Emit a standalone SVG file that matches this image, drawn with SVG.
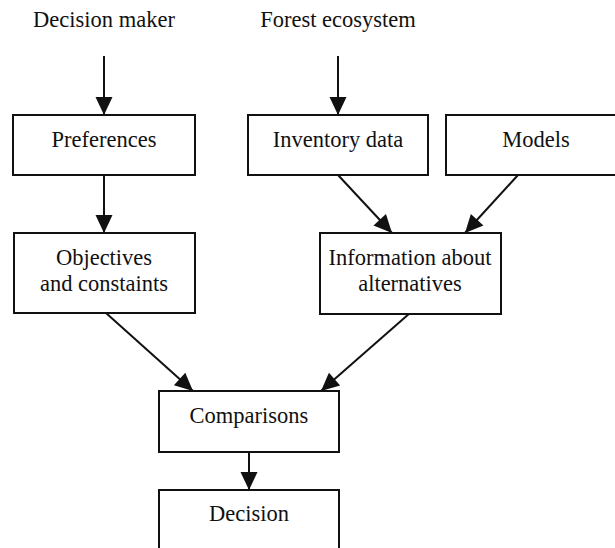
<svg xmlns="http://www.w3.org/2000/svg" width="615" height="548" viewBox="0 0 615 548">
  <style>
    .box { fill: #ffffff; stroke: #111111; stroke-width: 2; }
    .lbl { font-family: "Liberation Serif", "Times New Roman", serif; font-size: 22.5px; fill: #111111; text-anchor: middle; }
    .edge { stroke: #111111; stroke-width: 2; fill: none; marker-end: url(#head); }
  </style>
  <defs>
    <marker id="head" markerUnits="userSpaceOnUse" markerWidth="19" markerHeight="18" refX="18" refY="8.5" orient="auto" overflow="visible">
      <path d="M0,0 L18,8.5 L0,17 Z" fill="#111111"/>
    </marker>
  </defs>
  <rect width="615" height="548" fill="#ffffff"/>

  <!-- source labels -->
  <g id="decision-maker">
    <text class="lbl" x="104" y="27">Decision maker</text>
  </g>
  <g id="forest-ecosystem">
    <text class="lbl" x="338" y="27">Forest ecosystem</text>
  </g>

  <!-- connectors -->
  <g id="connectors">
    <line class="edge" x1="104" y1="56" x2="104" y2="115"/>
    <line class="edge" x1="338" y1="56" x2="338" y2="115"/>
    <line class="edge" x1="104" y1="175" x2="104" y2="233"/>
    <line class="edge" x1="338" y1="175" x2="392" y2="233"/>
    <line class="edge" x1="518" y1="175" x2="465" y2="233"/>
    <line class="edge" x1="106" y1="313" x2="193" y2="391"/>
    <line class="edge" x1="410" y1="313" x2="321" y2="391"/>
    <line class="edge" x1="249" y1="452" x2="249" y2="490"/>
  </g>

  <!-- nodes -->
  <g id="preferences">
    <rect class="box" x="13" y="115" width="182" height="60"/>
    <text class="lbl" x="104" y="147">Preferences</text>
  </g>
  <g id="inventory-data">
    <rect class="box" x="248" y="115" width="180" height="60"/>
    <text class="lbl" x="338" y="147">Inventory data</text>
  </g>
  <g id="models">
    <rect class="box" x="446" y="115" width="180" height="60"/>
    <text class="lbl" x="536" y="147">Models</text>
  </g>
  <g id="objectives">
    <rect class="box" x="14" y="233" width="181" height="80"/>
    <text class="lbl" x="104" y="265">Objectives</text>
    <text class="lbl" x="104" y="291">and constaints</text>
  </g>
  <g id="information">
    <rect class="box" x="320" y="233" width="181" height="81"/>
    <text class="lbl" x="410" y="265">Information about</text>
    <text class="lbl" x="410" y="291">alternatives</text>
  </g>
  <g id="comparisons">
    <rect class="box" x="159" y="391" width="180" height="61"/>
    <text class="lbl" x="249" y="423">Comparisons</text>
  </g>
  <g id="decision">
    <rect class="box" x="159" y="490" width="180" height="70"/>
    <text class="lbl" x="249" y="521">Decision</text>
  </g>
</svg>
